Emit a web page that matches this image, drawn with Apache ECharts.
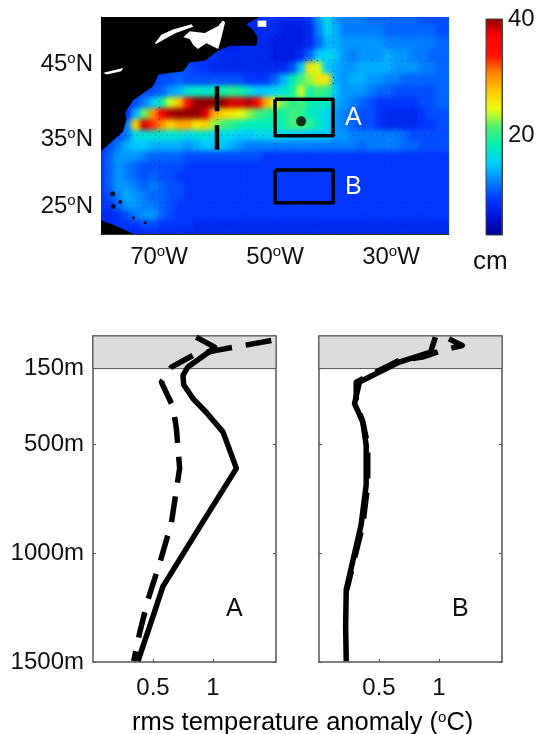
<!DOCTYPE html>
<html><head><meta charset="utf-8">
<script src="https://cdn.jsdelivr.net/npm/echarts@6/dist/echarts.min.js"></script>
<style>
html,body{margin:0;padding:0;background:#fff;width:538px;height:734px;overflow:hidden}
#clip{position:absolute;left:101px;top:17px;width:348px;height:217px;overflow:hidden}
#field{position:absolute;left:-101px;top:-17px;width:538px;height:734px;filter:blur(2.8px)}
#main{position:absolute;left:0;top:0;width:538px;height:734px;filter:blur(0.4px)}
</style></head><body>
<div id="clip"><div id="field"></div></div>
<div id="main"></div>
<script>
// sea-surface height variability (cm): rows from 50N to 20N every 1.5 deg, columns from 80W to 20W every 1.5 deg
var lons=[-80,-78.5,-77,-75.5,-74,-72.5,-71,-69.5,-68,-66.5,-65,-63.5,-62,-60.5,-59,-57.5,-56,-54.5,-53,-51.5,-50,-48.5,-47,-45.5,-44,-42.5,-41,-39.5,-38,-36.5,-35,-33.5,-32,-30.5,-29,-27.5,-26,-24.5,-23,-21.5,-20];
var lats=[50,48.5,47,45.5,44,42.5,41,39.5,38,36.5,35,33.5,32,30.5,29,27.5,26,24.5,23,21.5,20];
var ssh=[
[8,8,8,8,8,8,8,8,8,8,8,8,8,8,8,8,8,8,8,9,9,8,8,8,9,13,16,13,12,12,12,11,11,11,11,11,11,10,10,10,10],
[8,8,8,8,8,8,8,8,8,8,8,8,8,8,8,8,8,8,8,8,8,7,7,7,8,12,16,14,12,12,12,12,12,11,11,11,11,11,11,10,10],
[8,8,8,8,8,8,8,8,8,8,8,8,8,8,8,7,8,8,8,8,7,7,7,7,8,11,14,14,13,13,13,13,13,12,12,12,12,12,12,11,11],
[8,8,8,8,8,8,8,8,8,8,8,8,9,9,8,8,8,8,8,8,7,7,7,8,11,15,16,15,13,12,13,13,13,14,13,13,12,12,11,11,11],
[8,8,8,8,8,8,8,9,10,10,10,9,9,8,8,8,8,8,8,8,8,8,10,15,26,24,15,14,13,13,14,14,14,14,13,13,13,12,12,11,11],
[8,8,8,8,8,8,9,10,10,11,10,10,10,10,10,10,10,9,9,9,11,14,18,21,23,26,26,14,13,14,14,13,13,12,12,11,11,11,11,11,11],
[8,8,8,8,9,10,10,11,13,14,17,18,17,18,19,20,19,17,15,15,16,17,19,24,19,21,20,15,13,13,13,12,11,11,10,10,10,10,10,11,11],
[8,8,8,8,10,12,15,19,24,28,35,40,40,40,40,38,38,39,36,29,25,22,20,21,19,18,18,14,13,12,11,10,9,9,9,9,9,10,10,11,11],
[8,8,8,8,14,22,30,37,39,40,40,40,38,29,27,26,25,23,21,20,19,19,21,20,18,17,16,13,12,11,10,10,9,8,8,8,8,9,10,10,10],
[8,8,9,12,27,38,33,30,27,29,29,26,27,23,21,20,19,18,18,18,18,19,21,21,20,18,16,13,12,11,10,10,9,8,8,8,8,9,9,10,10],
[8,9,10,12,16,17,17,17,17,17,16,17,17,16,16,16,15,15,16,16,16,16,15,15,15,15,15,13,13,12,12,12,12,12,12,11,10,10,10,10,10],
[8,10,12,14,15,15,14,14,14,14,13,14,15,15,15,14,13,12,12,12,12,12,12,12,12,12,12,12,12,12,11,12,12,12,12,11,11,10,10,10,10],
[9,11,13,13,13,12,11,11,11,11,10,10,10,10,10,10,10,10,10,9,9,9,9,9,9,9,9,9,9,9,9,9,9,9,9,9,9,9,9,9,9],
[9,11,13,12,11,10,10,10,10,10,9,9,9,9,9,9,9,9,9,9,9,9,9,9,9,9,9,9,9,9,9,9,9,9,9,9,9,9,9,9,9],
[9,11,13,12,11,10,11,10,10,9,9,9,9,9,9,9,9,9,9,9,9,9,9,9,9,9,9,9,9,9,9,9,9,9,9,9,9,9,9,9,9],
[9,11,13,13,12,11,12,11,10,10,9,9,9,9,9,9,9,9,9,9,9,9,9,9,9,9,9,9,9,9,9,9,9,9,9,9,9,9,9,9,9],
[9,10,12,14,13,12,11,11,10,10,9,9,9,9,9,9,9,9,9,9,9,9,9,9,9,9,9,9,9,9,9,9,9,9,9,9,9,9,9,9,9],
[9,9,11,13,13,12,12,11,10,9,9,9,9,9,9,9,9,9,9,9,9,9,9,9,9,9,9,9,9,9,9,9,9,9,9,9,9,9,9,9,9],
[8,8,9,10,12,13,13,11,10,9,9,9,9,9,9,9,9,9,9,9,9,9,9,9,9,9,9,9,9,9,9,9,9,9,9,9,9,9,9,9,9],
[8,8,9,9,9,10,10,9,9,9,9,8,8,8,8,8,8,8,8,8,8,8,8,8,8,8,8,8,8,8,8,8,8,8,8,8,8,8,8,8,8],
[8,8,8,8,8,8,8,8,8,8,8,8,8,8,8,8,8,8,8,8,8,8,8,8,8,8,8,8,8,8,8,8,8,8,8,8,8,8,8,8,8]
];
var cmapColors=['#00008c','#0010d8','#0038ff','#0084ff','#00d0ff','#00f0b0','#50f070','#e8ff10','#ffc800','#ff8000','#ff1000','#ff0000','#900000'];
var cmapRange=[3,40];

// map overlays in lon/lat
var land=[[-80,50],[-52.7,50],[-55,49.2],[-53.8,48.6],[-53,47.7],[-53.2,46.7],[-57.8,46.7],[-59.8,46.1],[-62.1,44.9],[-64.7,44.7],[-65.8,43.6],[-70.1,43.2],[-71,41.7],[-74.4,39.9],[-75.9,38.2],[-75.6,37.3],[-76.2,35.6],[-78.5,33.9],[-80,32.8]];
var cuba=[[-80,22.2],[-77.9,21.5],[-74.4,20],[-80,20]];
var whiteRiver=[[-70.7,47],[-69.6,48],[-67.6,48.6],[-64.4,49.2],[-64.1,48.9],[-67.1,48.2],[-69,47.5],[-70.5,46.9]];
var whiteGulf=[[-65.8,47.7],[-64.7,48.4],[-62.1,48.2],[-59.8,49],[-59,49.6],[-58.6,49.4],[-59.3,47.5],[-59.8,46.3],[-61.8,47],[-63.3,46.3],[-64.1,46.8],[-64.7,47.5]];
var whiteSquare=[[-53,49.6],[-51.5,49.6],[-51.5,48.9],[-53,48.9]];
var whiteLake=[[-79.6,43.4],[-76.2,44],[-76.5,43.6],[-79,43.2]];
var boxA=[[-50,40],[-40,40],[-40,35],[-50,35],[-50,40]];
var boxB=[[-50,30],[-40,30],[-40,25],[-50,25],[-50,30]];
var section=[[-60,41.7],[-60,33]];
var mooring=[[-45.5,37]];
var islands=[[-78,26.4,5],[-77.9,24.4,5],[-76.7,25.1,4],[-74.4,22.6,3],[-72.4,21.8,3]];
var lonTicks=[-70,-60,-50,-40,-30], lonLabels=[-70,-50,-30];
var latTicks=[45,35,25];

// temperature profiles: [rms anomaly degC, depth m]
var depthTicks=[150,500,1000,1500], tempTicks=[0.5,1];
var aSolid=[[0.86,5],[1.014,51],[0.945,82],[0.79,143],[0.75,181],[0.756,224],[0.833,288],[0.945,352],[1.083,441],[1.195,609],[0.917,854],[0.583,1152],[0.5,1290],[0.375,1496]];
var aDash=[[1.486,21],[1.028,66],[0.833,89],[0.653,143],[0.57,212],[0.667,327],[0.695,426],[0.722,609],[0.68,762],[0.653,861],[0.556,1045],[0.458,1213],[0.389,1365],[0.339,1496]];
var bSolid=[[0.97,5],[0.93,74],[0.669,120],[0.337,212],[0.296,311],[0.365,395],[0.393,502],[0.393,686],[0.351,869],[0.227,1167],[0.222,1335],[0.227,1496]];
var bDash=[[1.083,13],[1.193,44],[1.027,66],[0.862,97],[0.669,112],[0.53,150],[0.31,212],[0.31,311],[0.365,395],[0.406,502],[0.406,686],[0.365,869],[0.232,1167]];
var band=[[0,150]];

function merc(lat){return Math.log(Math.tan(Math.PI/4+lat*Math.PI/360));}
function invMerc(m){return Math.round((2*Math.atan(Math.exp(m))-Math.PI/2)*180/Math.PI);}
var FONT='"Liberation Sans",Arial,sans-serif', FS=24, EDGE='#555';
var supRich={a:{fontFamily:FONT,fontSize:FS,color:'#111',lineHeight:26},s:{fontFamily:FONT,fontSize:15,color:'#111',padding:[0,0,11,0]}};
var xlabRich={a:{fontFamily:FONT,fontSize:25.5,color:'#111',lineHeight:28},s:{fontFamily:FONT,fontSize:15,color:'#111',padding:[0,0,11,0]}};

// ---- smooth field layer
var cells=[];
ssh.forEach(function(row,r){row.forEach(function(v,c){cells.push([lons[c],lats[r],v]);});});
var field=echarts.init(document.getElementById('field'),null,{renderer:'canvas'});
field.setOption({
  animation:false,
  grid:{left:101,top:17,width:348,height:217},
  xAxis:{type:'value',min:-80,max:-20,show:false},
  yAxis:{type:'value',min:merc(20),max:merc(50),show:false},
  visualMap:{show:false,min:cmapRange[0],max:cmapRange[1],dimension:2,seriesIndex:0,inRange:{color:cmapColors}},
  series:[{type:'custom',data:cells,clip:false,coordinateSystem:'cartesian2d',
    encode:{x:0,y:1},
    renderItem:function(p,api){
      var lo=api.value(0),la=api.value(1);
      var a=api.coord([lo-0.8,merc(la+0.8)]),b=api.coord([lo+0.8,merc(la-0.8)]);
      return {type:'rect',shape:{x:a[0],y:a[1],width:b[0]-a[0],height:b[1]-a[1]},style:{fill:api.visual('color')}};
    }}]
});

// ---- axes, land, marks
function poly(ringList,fill,idx,z){
  return {type:'custom',xAxisIndex:idx,yAxisIndex:idx,z:z,silent:true,data:ringList.map(function(_,i){return [i];}),
    encode:{x:[],y:[]},
    renderItem:function(p,api){
      var pts=ringList[p.dataIndex].map(function(q){return api.coord([q[0],merc(q[1])]);});
      return {type:'polygon',shape:{points:pts},style:{fill:fill}};
    }};
}
function mapLine(pts,extra,z){
  return {type:'line',xAxisIndex:0,yAxisIndex:0,z:z,silent:true,symbol:'none',clip:false,
    data:pts.map(function(q){return [q[0],merc(q[1])];}),lineStyle:extra};
}
var grids=[
 {left:101,top:17,width:348,height:217,show:false},
 {left:486,top:19,width:16,height:216,show:false},
 {left:93,top:336,width:183,height:326,show:false},
 {left:319,top:336,width:183,height:326,show:false}
];
var axStyle={show:true,onZero:false,lineStyle:{color:EDGE,width:1.5}};
function depthAxes(gi,labels){
  var base={type:'value',gridIndex:gi,min:0,max:1500,inverse:true,splitLine:{show:false},axisLine:axStyle,
    axisTick:{show:true,inside:true,length:3,customValues:depthTicks,lineStyle:{color:EDGE}}};
  return [
   Object.assign({},base,{position:'left',axisLabel:{show:labels,customValues:depthTicks,margin:9,fontFamily:FONT,fontSize:FS,color:'#111',formatter:function(v){return v+'m';}}}),
   Object.assign({},base,{position:'right',axisLabel:{show:false}})
  ];
}
function tempAxes(gi){
  var base={type:'value',gridIndex:gi,min:0,max:1.525,splitLine:{show:false},axisLine:axStyle,
    axisTick:{show:true,inside:true,length:3,customValues:tempTicks,lineStyle:{color:EDGE}}};
  return [
   Object.assign({},base,{position:'bottom',axisLabel:{show:true,customValues:tempTicks,margin:14,fontFamily:FONT,fontSize:FS,color:'#111',formatter:function(v){return String(v);}}}),
   Object.assign({},base,{position:'top',axisLabel:{show:false}})
  ];
}
var xA=tempAxes(2), xB=tempAxes(3), yA=depthAxes(2,true), yB=depthAxes(3,false);
var mapX={type:'value',gridIndex:0,min:-80,max:-20,position:'bottom',
  axisLine:{show:true,onZero:false,lineStyle:{color:'#333',width:1}},
  axisTick:{show:true,inside:true,length:3,customValues:lonTicks,lineStyle:{color:'#333'}},
  splitLine:{show:true,lineStyle:{color:'rgba(0,0,40,0.55)',width:1,type:[1,5]}},
  axisLabel:{customValues:lonLabels,margin:10,rich:supRich,formatter:function(v){return '{a|'+Math.abs(v)+'}{s|o}{a|W}';}}};
var mapY={type:'value',gridIndex:0,min:merc(20),max:merc(50),position:'left',
  axisLine:{show:true,onZero:false,lineStyle:{color:'#333',width:1}},
  axisTick:{show:true,inside:true,length:3,customValues:latTicks.map(merc),lineStyle:{color:'#333'}},
  splitLine:{show:true,lineStyle:{color:'rgba(0,0,40,0.55)',width:1,type:[1,5]}},
  axisLabel:{customValues:latTicks.map(merc),margin:8,padding:[8,0,0,0],rich:supRich,formatter:function(v){return '{a|'+invMerc(v)+'}{s|o}{a|N}';}}};
var cbX={type:'value',gridIndex:1,min:0,max:1,show:false};
var cbY={type:'value',gridIndex:1,min:cmapRange[0],max:cmapRange[1],position:'right',
  axisLine:{show:true,onZero:false,lineStyle:{color:'#444',width:1}},
  axisTick:{show:true,inside:true,length:2,customValues:[20,40],lineStyle:{color:'#333'}},
  splitLine:{show:false},
  axisLabel:{customValues:[20,40],margin:6,padding:[10,0,0,0],fontFamily:FONT,fontSize:FS,color:'#111',formatter:function(v){return String(v);}}};

var stops=cmapColors.map(function(c,i){return {offset:1-i/(cmapColors.length-1),color:c};}).reverse();
var main=echarts.init(document.getElementById('main'),null,{renderer:'canvas'});
function bandSeries(gi){
  return {type:'custom',xAxisIndex:gi==2?2:4,yAxisIndex:gi==2?2:4,z:1,silent:true,data:band,encode:{x:[],y:[]},
    renderItem:function(p,api){
      var a=api.coord([0,api.value(0)]),b=api.coord([1.525,api.value(1)]);
      return {type:'rect',shape:{x:a[0],y:a[1],width:b[0]-a[0],height:b[1]-a[1]},style:{fill:'#dcdcdc',stroke:EDGE,lineWidth:1}};
    }};
}
function prof(name,data,gi,dashed){
  return {name:name,type:'line',xAxisIndex:gi==2?2:4,yAxisIndex:gi==2?2:4,z:5,symbol:'none',silent:true,clip:true,data:data,
    lineStyle:{color:'#000',width:5.5,type:dashed?[26,14]:'solid',join:'round'}};
}
main.setOption({
  animation:false,
  backgroundColor:'transparent',
  grid:grids,
  xAxis:[mapX,cbX,xA[0],xA[1],xB[0],xB[1]],
  yAxis:[mapY,cbY,yA[0],yA[1],yB[0],yB[1]],
  series:[
    poly([land,cuba],'#000',0,2),
    poly([whiteRiver,whiteGulf,whiteSquare,whiteLake],'#fff',0,3),
    {type:'scatter',xAxisIndex:0,yAxisIndex:0,z:3,silent:true,
      data:islands.map(function(q){return [q[0],merc(q[1]),q[2]];}),
      symbolSize:function(v){return v[2];},itemStyle:{color:'#000'}},
    mapLine(boxA,{color:'#000',width:3.5,join:'round'},4),
    mapLine(boxB,{color:'#000',width:3.5,join:'round'},4),
    mapLine(section,{color:'#000',width:4.5,type:[25,14]},4),
    {type:'scatter',xAxisIndex:0,yAxisIndex:0,z:5,silent:true,symbolSize:10,itemStyle:{color:'#000'},
      data:mooring.map(function(q){return [q[0],merc(q[1])];})},
    {type:'custom',xAxisIndex:1,yAxisIndex:1,z:2,silent:true,data:[cmapRange],encode:{x:[],y:[]},
      renderItem:function(p,api){
        var a=api.coord([0,api.value(1)]),b=api.coord([1,api.value(0)]);
        return {type:'rect',shape:{x:a[0],y:a[1],width:b[0]-a[0],height:b[1]-a[1]},
          style:{fill:new echarts.graphic.LinearGradient(0,0,0,1,stops),stroke:'#444',lineWidth:1}};
      }},
    bandSeries(2),bandSeries(3),
    prof('A solid',aSolid,2,false),prof('A dashed',aDash,2,true),
    prof('B solid',bSolid,3,false),prof('B dashed',bDash,3,true)
  ],
  graphic:[
    {type:'text',left:345,top:106,style:{text:'A',fontFamily:FONT,fontSize:25,fill:'#fff'}},
    {type:'text',left:345,top:175,style:{text:'B',fontFamily:FONT,fontSize:25,fill:'#fff'}},
    {type:'text',left:226,top:597,style:{text:'A',fontFamily:FONT,fontSize:25,fill:'#111'}},
    {type:'text',left:452,top:597,style:{text:'B',fontFamily:FONT,fontSize:25,fill:'#111'}},
    {type:'text',left:473,top:249,style:{text:'cm',fontFamily:FONT,fontSize:26,fill:'#111'}},
    {type:'text',left:132,top:710,style:{rich:xlabRich,text:'{a|rms temperature anomaly (}{s|o}{a|C)}'}}
  ]
});
</script>
</body></html>
